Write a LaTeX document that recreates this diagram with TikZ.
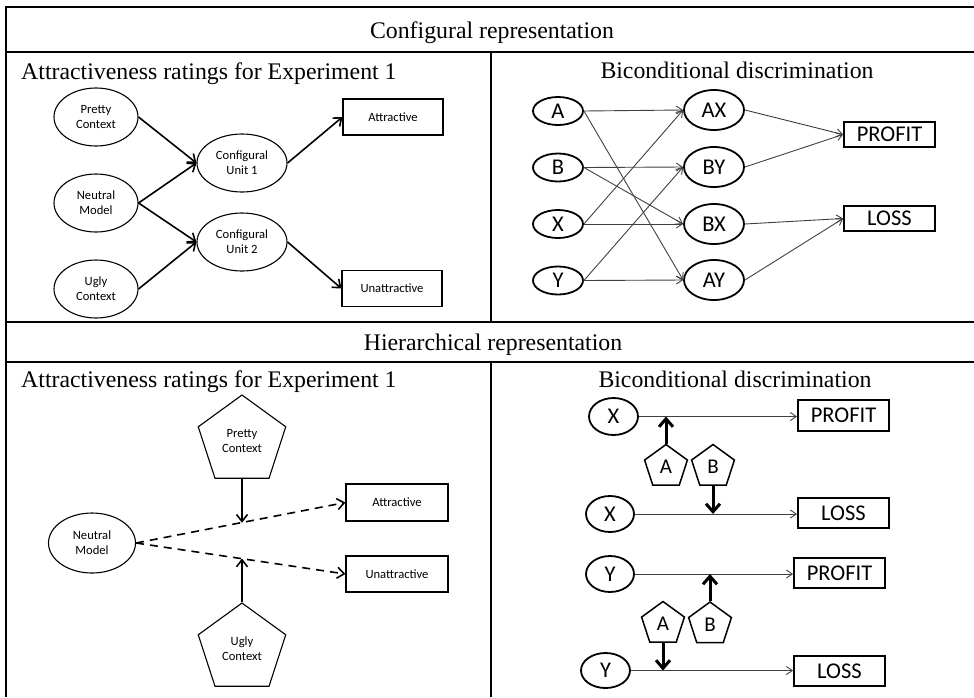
\documentclass[tikz,border=0pt]{standalone}
\usepackage{fontspec}
\setmainfont{Liberation Serif}
\newfontfamily\calfont{Carlito}
\usetikzlibrary{shapes.geometric,arrows.meta,calc}
\begin{document}
\begin{tikzpicture}[x=1pt,y=-1pt,
 tbl/.style={line width=2pt},
 ttl/.style={font=\fontsize{23.8}{28}\selectfont, anchor=base, inner sep=0},
 sm/.style={font=\calfont\fontsize{12.6}{15}\selectfont, align=center, inner sep=0, draw, line width=1.1pt},
 smell/.style={sm, ellipse, minimum width=84pt, minimum height=58pt},
 smbox/.style={sm, rectangle, minimum width=100pt, minimum height=36pt},
 smpent/.style={sm, regular polygon, regular polygon sides=5, minimum size=92pt},
 bg/.style={font=\calfont\fontsize{22.5}{26}\selectfont, inner sep=0, draw, line width=1.8pt},
 bgell/.style={bg, ellipse},
 bgbox/.style={bg, rectangle, minimum width=91pt},
 bgpent/.style={bg, regular polygon, regular polygon sides=5, minimum size=45pt, line width=1.5pt, font=\calfont\fontsize{21}{24}\selectfont},
 arr/.style={line width=1.6pt, -{Straight Barb[length=7pt,width=11pt]}},
 thin/.style={line width=0.9pt, black!75, -{Straight Barb[length=6pt,width=8pt]}},
 dsh/.style={line width=1.6pt, dash pattern=on 8pt off 6pt, -{Straight Barb[length=7pt,width=11pt]}},
 bold/.style={line width=3pt, -{Straight Barb[length=8pt,width=14pt]}}
]
\useasboundingbox (0,0) rectangle (974,697);
% table
\draw[tbl] (6,7) -- (974,7);
\draw[tbl] (6,52) -- (974,52);
\draw[tbl] (6,322) -- (974,322);
\draw[tbl] (6,362) -- (974,362);
\draw[tbl] (6,6) -- (6,697);
\draw[tbl] (491,52) -- (491,322);
\draw[tbl] (491,362) -- (491,697);
% titles
\node[ttl] (h1) at (492,38) {Configural representation};
\node[ttl, anchor=base west] (t1) at (21,79) {Attractiveness ratings for Experiment 1};
\node[ttl] (t2) at (737,78) {Biconditional discrimination};
\node[ttl] (h2) at (493,350) {Hierarchical representation};
\node[ttl, anchor=base west] (t3) at (21,387) {Attractiveness ratings for Experiment 1};
\node[ttl] (t4) at (735,387) {Biconditional discrimination};

% ---- top-left
\node[smell] (pc) at (96,117) {Pretty\\Context};
\node[smell] (nm) at (96,203) {Neutral\\Model};
\node[smell] (uc) at (96,289) {Ugly\\Context};
\node[smell, minimum width=90pt] (cu1) at (242,163) {Configural\\Unit 1};
\node[smell, minimum width=90pt] (cu2) at (242,242) {Configural\\Unit 2};
\node[smbox] (att) at (393,117) {Attractive};
\node[smbox] (unatt) at (392,288.5) {Unattractive};
\draw[arr] (pc.east) -- (cu1.west);
\draw[arr] (nm.east) -- (cu1.west);
\draw[arr] (nm.east) -- (cu2.west);
\draw[arr] (uc.east) -- (cu2.west);
\draw[arr] (cu1.east) -- (att.west);
\draw[arr] (cu2.east) -- (unatt.west);

% ---- top-right
\foreach \n/\y in {A/111,B/167.5,X/224,Y/280.5}{
  \node[bgell, minimum width=50pt, minimum height=28pt] (s\n) at (558,\y) {\n};
}
\foreach \n/\y in {AX/110,BY/167,BX/224,AY/280}{
  \node[bgell, minimum width=60pt, minimum height=40pt] (c\n) at (714,\y) {\n};
}
\node[bgbox, minimum height=25pt] (profit) at (889.5,134.5) {PROFIT};
\node[bgbox, minimum height=25pt] (loss) at (889.5,218.5) {LOSS};
\draw[thin] (sA.east) -- (cAX.west);
\draw[thin] (sA.east) -- (cAY.west);
\draw[thin] (sB.east) -- (cBY.west);
\draw[thin] (sB.east) -- (cBX.west);
\draw[thin] (sX.east) -- (cAX.west);
\draw[thin] (sX.east) -- (cBX.west);
\draw[thin] (sY.east) -- (cBY.west);
\draw[thin] (sY.east) -- (cAY.west);
\draw[thin] (cAX.east) -- (profit.west);
\draw[thin] (cBY.east) -- (profit.west);
\draw[thin] (cBX.east) -- (loss.west);
\draw[thin] (cAY.east) -- (loss.west);

% ---- bottom-left
\node[smell, minimum width=87pt, minimum height=60pt] (nm2) at (92,543) {Neutral\\Model};
\node[smpent] (pp) at (242,441) {Pretty\\Context};
\node[smpent] (up) at (242,649) {Ugly\\Context};
\node[smbox, minimum width=102pt, minimum height=37pt] (att2) at (397,502.5) {Attractive};
\node[smbox, minimum width=102pt, minimum height=36pt] (unatt2) at (397,574) {Unattractive};
\draw[dsh] (nm2.east) -- (att2.west);
\draw[dsh] (nm2.east) -- (unatt2.west);
\coordinate (m1) at ($(nm2.east)!0.5!(att2.west)$);
\coordinate (m2) at ($(nm2.east)!0.5!(unatt2.west)$);
\draw[arr] (pp.south) -- (pp.south |- m1);
\draw[arr] (up.north) -- (up.north |- m2);

% ---- bottom-right
\node[bgell, minimum width=49pt, minimum height=37pt] (x1) at (613.5,416.5) {X};
\node[bgell, minimum width=48pt, minimum height=36pt] (x2) at (610,514) {X};
\node[bgell, minimum width=48pt, minimum height=36pt] (y1) at (610,574) {Y};
\node[bgell, minimum width=49pt, minimum height=35pt] (y2) at (605.5,670.5) {Y};
\node[bgbox, minimum height=31pt] (p1) at (843.5,415.5) {PROFIT};
\node[bgbox, minimum height=30pt] (l1) at (843.5,513) {LOSS};
\node[bgbox, minimum height=30pt] (p2) at (839.5,573) {PROFIT};
\node[bgbox, minimum height=30pt] (l2) at (839.5,671) {LOSS};
\draw[thin] (x1.east) -- (x1.east -| p1.west);
\draw[thin] (x2.east) -- (x2.east -| l1.west);
\draw[thin] (y1.east) -- (y1.east -| p2.west);
\draw[thin] (y2.east) -- (y2.east -| l2.west);
\node[bgpent] (a1) at (666,467) {A};
\node[bgpent] (b1) at (713,467) {B};
\node[bgpent] (a2) at (663,624) {A};
\node[bgpent] (b2) at (710,624.5) {B};
\draw[bold] (a1.north) -- (a1.north |- x1.east);
\draw[bold] (b1.south) -- (b1.south |- x2.east);
\draw[bold] (b2.north) -- (b2.north |- y1.east);
\draw[bold] (a2.south) -- (a2.south |- y2.east);
\end{tikzpicture}
\end{document}
